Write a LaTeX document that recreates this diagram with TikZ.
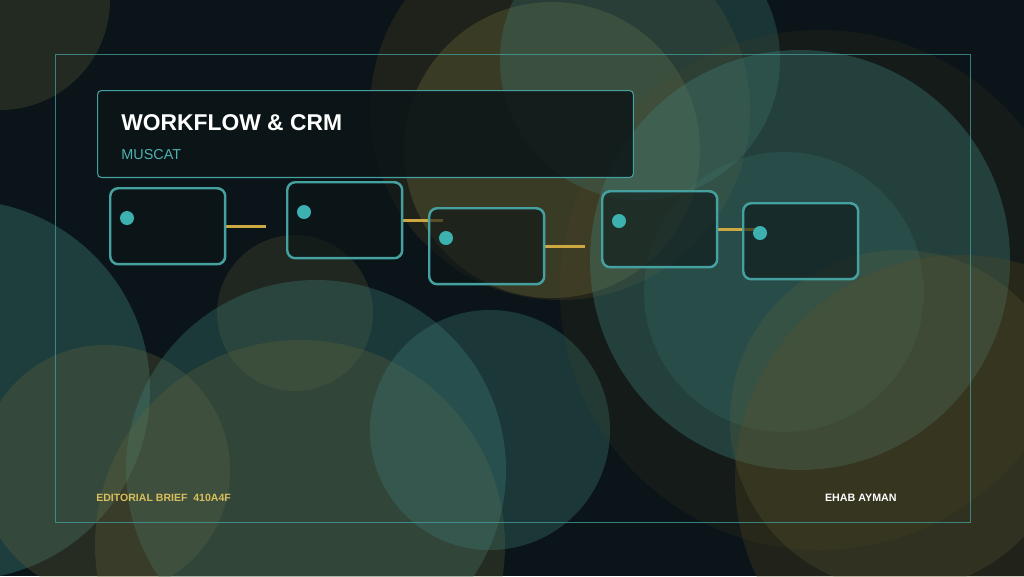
\documentclass[tikz,border=0pt]{standalone}
\usepackage{fontspec}
\setmainfont{Liberation Sans}
\usetikzlibrary{backgrounds}
\definecolor{bgdark}{HTML}{0B1519}
\definecolor{blobteal}{HTML}{3F8078}
\definecolor{blobolive}{HTML}{6E6A3A}
\definecolor{blobbrown}{HTML}{5C4A20}
\definecolor{lineteal}{HTML}{45A0A0}
\definecolor{dotteal}{HTML}{3DB0B0}
\definecolor{linkgold}{HTML}{CCA843}
\definecolor{boxfill}{HTML}{0C1517}
\definecolor{subteal}{HTML}{4FB0B0}
\definecolor{footgold}{HTML}{D9BE5C}
\tikzset{
  teal blob/.style={fill=blobteal, fill opacity=#1},
  olive blob/.style={fill=blobolive, fill opacity=#1},
  brown blob/.style={fill=blobbrown, fill opacity=#1},
  pin/.style={circle, fill=dotteal, inner sep=0pt, minimum size=0.28cm}
}
\begin{document}
\begin{tikzpicture}[x=0.02cm, y=-0.02cm]
  \useasboundingbox (0,0) rectangle (1024,576);
  \begin{scope}[on background layer]
    \fill[bgdark] (0,0) rectangle (1024,576);
    \path[olive blob=0.25] (0,0) circle[radius=110];
    \path[teal blob=0.38] (-40,390) circle[radius=190];
    \path[olive blob=0.28] (105,470) circle[radius=125];
    \path[olive blob=0.22] (295,313) circle[radius=78];
    \path[teal blob=0.34] (316,470) circle[radius=190];
    \path[olive blob=0.26] (300,545) circle[radius=205];
    \path[teal blob=0.32] (490,430) circle[radius=120];
    \path[brown blob=0.25] (560,110) circle[radius=190];
    \path[olive blob=0.35] (552,150) circle[radius=148];
    \path[teal blob=0.3] (640,60) circle[radius=140];
    \path[brown blob=0.12] (820,290) circle[radius=260];
    \path[teal blob=0.37] (800,260) circle[radius=210];
    \path[teal blob=0.2] (784,292) circle[radius=140];
    \path[brown blob=0.28] (960,480) circle[radius=225];
    \path[olive blob=0.2] (900,420) circle[radius=170];
  \end{scope}

  \node[draw=lineteal, draw opacity=0.75, line width=0.6pt, anchor=north west,
        minimum width=18.3cm, minimum height=9.36cm, inner sep=0pt] (frame) at (55,54) {};
  \node[draw=lineteal, line width=0.6pt, rounded corners=0.08cm, fill=boxfill,
        fill opacity=0.85, anchor=north west, minimum width=10.72cm,
        minimum height=1.74cm, inner sep=0pt] (head) at (97,90) {};
  \node[anchor=base west, text=white, font=\bfseries\fontsize{13}{16}\selectfont,
        inner sep=0pt] (title) at (121,130) {WORKFLOW \& CRM};
  \node[anchor=base west, text=subteal, font=\fontsize{8.2}{10}\selectfont,
        inner sep=0pt] (city) at (121,159) {MUSCAT};

  \begin{scope}[every node/.style={draw=lineteal, line width=1.4pt, rounded corners=0.16cm,
      fill=boxfill, fill opacity=0.6, minimum width=2.3cm, minimum height=1.52cm,
      inner sep=0pt, anchor=north west}]
    \node (s1) at (109,187) {};
    \node (s2) at (286,181) {};
    \node (s3) at (428,207) {};
    \node (s4) at (601,190) {};
    \node (s5) at (742,202) {};
  \end{scope}
  \node[pin] (d1) at ([shift={(18,31)}]s1.north west) {};
  \node[pin] (d2) at ([shift={(18,31)}]s2.north west) {};
  \node[pin] (d3) at ([shift={(18,31)}]s3.north west) {};
  \node[pin] (d4) at ([shift={(18,31)}]s4.north west) {};
  \node[pin] (d5) at ([shift={(18,31)}]s5.north west) {};

  \coordinate (e1) at ([xshift=0.8cm]s1.east);
  \coordinate (e2) at ([xshift=0.8cm]s2.east);
  \coordinate (e3) at ([xshift=0.8cm]s3.east);
  \coordinate (e4) at ([xshift=0.8cm]s4.east);
  \begin{scope}[on background layer, every edge/.style={draw=linkgold, line width=1.7pt}]
    \path (s1.east) edge (e1);
    \path (s2.east) edge (e2);
    \path (s3.east) edge (e3);
    \path (s4.east) edge (e4);
  \end{scope}

  \node[anchor=base west, text=footgold, font=\bfseries\fontsize{6}{7}\selectfont,
        inner sep=0pt] (brief) at (96,501) {EDITORIAL BRIEF\ \ 410A4F};
  \node[anchor=base east, text=white, font=\bfseries\fontsize{6.1}{7}\selectfont,
        inner sep=0pt] (author) at (897,501) {EHAB AYMAN};
\end{tikzpicture}
\end{document}
